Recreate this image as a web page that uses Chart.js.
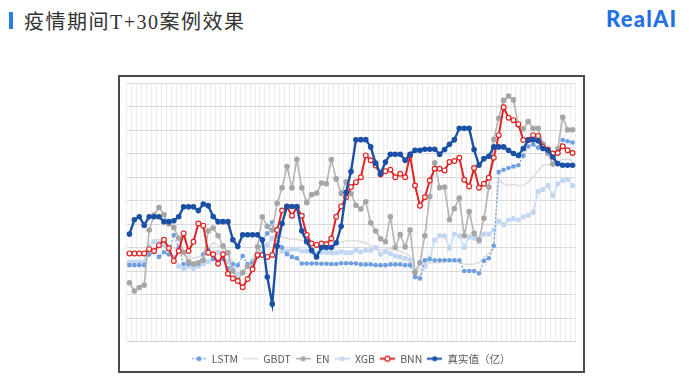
<!DOCTYPE html>
<html>
<head>
<meta charset="utf-8">
<script src="https://cdn.jsdelivr.net/npm/chart.js@4/dist/chart.umd.min.js"></script>
<style>
  body { margin: 0; background: #fff; }
  #page { position: relative; width: 700px; height: 386px; overflow: hidden; }
  #bar { position: absolute; left: 9px; top: 12px; width: 4px; height: 17px; background: #2a7ee2; }
  #title { position: absolute; left: 24px; top: 6px; font-family: "Liberation Serif", "Noto Sans CJK SC", serif; font-size: 20px; letter-spacing: 1.5px; color: #333; white-space: nowrap; }
  #logo { position: absolute; left: 606px; top: 5px; font-family: Lato, "Noto Sans", sans-serif; font-weight: 900; font-size: 22px; color: #2370e4; letter-spacing: 1.2px; }
  #frame { position: absolute; left: 118px; top: 75px; width: 467px; height: 298px; box-sizing: border-box; border: 2px solid #4a4a4a; }
  #chart { position: absolute; left: 0; top: 0; }
</style>
</head>
<body>
<div id="page">
  <div id="bar"></div>
  <div id="title">疫情期间T+30案例效果</div>
  <div id="logo">RealAI</div>
  <div id="frame"></div>
  <canvas id="chart" width="700" height="386"></canvas>
</div>
<script>
// day index of the 91 forecast points
const days = [1,2,3,4,5,6,7,8,9,10,11,12,13,14,15,16,17,18,19,20,
  21,22,23,24,25,26,27,28,29,30,31,32,33,34,35,36,37,38,39,40,
  41,42,43,44,45,46,47,48,49,50,51,52,53,54,55,56,57,58,59,60,
  61,62,63,64,65,66,67,68,69,70,71,72,73,74,75,76,77,78,79,80,
  81,82,83,84,85,86,87,88,89,90,91];

const lstm = [32.5,32.5,32.5,32.5,37,38,36,38,37,45.3,40,33,33,33,33,37.1,39,35,34,35,
  31,33,32.5,36.4,33,33.5,36,43.1,46,50.7,45,40,37.1,36,35.4,33.2,33.2,33.2,33.2,33.1,
  33.1,33,33,33.3,33.3,33.3,33.2,32.8,32.8,32.8,32.5,32.5,32.5,32.8,32.8,32.8,32.5,32.5,27.4,26.8,
  34.6,35,34.6,34.6,34.6,34.6,34.6,34.6,30,30,30,29,34.3,35.4,40.7,72.1,73.1,73.8,74.5,75,
  79,83,83.8,82.5,82,81,80,82,85.7,85.2,84.7];

const gbdt = [34.5,34.5,34.5,34.5,41,43,43.5,42.5,41,40,39,37,36,35.5,36,37,40,42,41,39,
  37,34,31,30,32,35,38,41,42,43,44,44.5,44,43.5,43.5,43,42.5,42,41.5,42,
  42.8,42.5,42,42.1,42.8,43.1,43,42.5,42,40.7,39.8,39,39.2,39.5,39,38.5,37.5,36.4,30,31,
  32.5,33.5,33.5,33.5,34,34.5,34,33.5,33,32.8,33,33.5,35.5,37.5,40,69,67.1,66.4,66.8,66.4,
  66.4,67.8,69.9,72.8,75,75.4,75,76.4,77.5,77.5,77.1];

const en = [25,21.5,23,24,47.4,53.8,57,54,50,48.5,44,38,34,33,33.5,34.6,47.1,48.3,45,40.7,
  37.8,30,26.4,29.3,32.1,31.4,40.3,53.1,49,47.4,58.8,65.4,74.5,65.4,77.4,65.4,59.2,62.5,63.1,67.4,
  67.1,77.4,69.2,63,68,63,58,56.4,59.5,50.5,47,43.7,42.4,53.1,40,45.5,40.2,47.4,29.5,33.5,
  45,61.7,76,65.5,65.7,51.8,56.6,61,45,55.3,46,43.2,52.4,65.7,86,95,102.6,104.5,102.8,92,
  90.5,93.6,90.7,90.7,84,80,75.5,82,95.4,90.1,90.1];

const xgb = [33.8,33.8,33.8,33.8,40,42.5,42,41,38,36,32,31,32,31,32,33,34,36,38,37,
  34,31,29,29.3,32,34.5,36.5,38,41,44,42,38.5,38.5,39.3,39.3,38.5,38.5,38,37.5,38,
  38,37.8,37.8,38.2,37.8,37.8,38.8,38.2,38.8,38.8,40,37.1,38.2,37.4,36.4,36,35.4,34.6,29.3,27.1,
  32.1,35.4,43.1,45,45,39.7,45.7,45,40,44.5,44,42.5,45.7,45.7,47.4,51.2,49.7,51.7,52.3,51.7,
  53,53.7,55,63.8,64.7,66.4,62.1,67.1,68.5,69,66.4];

const bnn = [37.5,37.4,37.4,37.5,39.3,38.5,41,43.3,39.7,34.3,38.5,46,38.5,42.4,50.2,49.3,37.8,37.1,33.1,37.1,
  28.8,26.8,25.7,23.1,26.6,30.7,36.8,36.8,36,36.8,47.4,55.7,57.4,53.5,57.1,53.5,45.3,41.7,41.1,41.7,
  41.4,43.8,53.1,57.5,61.4,65.7,67.8,69.9,79.2,77.1,74.9,71.1,72.5,73.1,69.9,71.4,69.9,79.2,66.4,57.8,
  61.4,68.5,73.5,73.5,72.8,76.4,76.8,78.2,68.8,66,73.8,65.4,67.1,69.7,78.2,87.8,99.7,95.2,94.2,92.5,
  85.7,85.7,87.8,87.5,82.8,81.7,80,80.2,83.1,81.4,80.2];

const actual = [45.7,51.8,53.1,49.5,53.1,53.1,53.1,51,51,51.4,53.1,57.3,57.3,57.3,55.7,58.5,57.8,53.2,51,51,
  51,43.3,40.4,45.4,45.4,45.4,45.4,43.3,27.4,16,40.5,50.2,57.4,57.4,57.4,47.1,42.5,38.8,36,40,
  40,40,42,49,63.5,72.3,85.8,85.9,85.9,82.8,75.9,71.4,76.4,79.7,79.7,79.7,77.1,79.7,81.4,81.4,
  81.8,81.8,81.8,79.7,81.7,83.9,85.9,90.7,90.7,90.7,81.7,75,77.8,78.8,82.8,82.8,82.8,81.4,80,79.2,
  82.1,85.7,85.9,85.4,82.1,81.4,78.5,75.7,75,75,75];

const seriesNames = ['LSTM', 'GBDT', 'EN', 'XGB', 'BNN', '真实值（亿）'];

// small legend icon: a short line with the marker in the middle
function makeIcon(color, opts) {
  const c = document.createElement('canvas');
  c.width = 15; c.height = 9;
  const g = c.getContext('2d');
  g.strokeStyle = color;
  g.lineWidth = opts.lw || 1.5;
  if (opts.dash) g.setLineDash(opts.dash);
  g.beginPath(); g.moveTo(0, 4.5); g.lineTo(15, 4.5); g.stroke();
  g.setLineDash([]);
  if (opts.dot) {
    g.beginPath(); g.arc(7.5, 4.5, opts.r || 2.5, 0, Math.PI * 2);
    g.fillStyle = opts.hollow ? '#fff' : color;
    g.fill();
    if (opts.hollow) { g.lineWidth = 1.3; g.stroke(); }
  }
  return c;
}

const icons = [
  makeIcon('#6f9fe0', {dash: [2, 2], dot: true}),
  makeIcon('#dcdcdc', {}),
  makeIcon('#a6a6a6', {dot: true}),
  makeIcon('#c6daf2', {dot: true, lw: 2}),
  makeIcon('#e02424', {dot: true, hollow: true, lw: 2}),
  makeIcon('#1a50a6', {dot: true, lw: 2})
];

const ctx = document.getElementById('chart').getContext('2d');

new Chart(ctx, {
  type: 'line',
  data: {
    labels: days,
    datasets: [
      { label: seriesNames[0], data: lstm, order: 3, borderColor: '#6f9fe0', backgroundColor: '#6f9fe0',
        borderWidth: 1.2, borderDash: [2, 2], pointRadius: 2.3, pointBorderWidth: 0 },
      { label: seriesNames[1], data: gbdt, order: 5, borderColor: '#dedede', backgroundColor: '#dedede',
        borderWidth: 1.6, pointRadius: 0 },
      { label: seriesNames[2], data: en, order: 2, borderColor: '#b4b4b4', backgroundColor: '#a6a6a6',
        borderWidth: 1.6, pointRadius: 2.8, pointBorderWidth: 0 },
      { label: seriesNames[3], data: xgb, order: 4, borderColor: '#cfe0f5', backgroundColor: '#c2d8f2',
        borderWidth: 2, pointRadius: 2.6, pointBorderWidth: 0 },
      { label: seriesNames[4], data: bnn, order: 1, borderColor: '#e02424', backgroundColor: '#ffffff',
        pointBorderColor: '#e02424', borderWidth: 2, pointRadius: 2.4, pointBorderWidth: 1.2 },
      { label: seriesNames[5], data: actual, order: 0, borderColor: '#1a50a6', backgroundColor: '#1a50a6',
        borderWidth: 2.4, pointRadius: 2.8, pointBorderWidth: 0 }
    ]
  },
  options: {
    responsive: false,
    animation: false,
    layout: { padding: { left: 127, right: 125, top: 83, bottom: 12 } },
    scales: {
      x: {
        offset: true,
        grid: { offset: true, color: '#ececec', drawTicks: true, tickLength: 7, tickColor: 'rgba(0,0,0,0)' },
        border: { display: true, color: '#d2d2d2' },
        ticks: { display: false, autoSkip: false }
      },
      y: {
        min: 0, max: 110,
        grid: { color: '#dadada', drawTicks: false },
        border: { display: false },
        ticks: { display: false, stepSize: 10 }
      }
    },
    plugins: {
      tooltip: { enabled: false },
      legend: {
        position: 'bottom',
        labels: {
          usePointStyle: true,
          pointStyleWidth: 15,
          boxHeight: 9,
          padding: 5,
          color: '#595959',
          font: { size: 10.5, family: '"Noto Sans CJK SC", "Noto Sans", sans-serif' },
          sort: (a, b) => a.datasetIndex - b.datasetIndex,
          generateLabels: function (chart) {
            const items = Chart.defaults.plugins.legend.labels.generateLabels(chart);
            items.forEach(function (it) { it.pointStyle = icons[it.datasetIndex]; });
            return items;
          }
        }
      }
    }
  }
});
</script>
</body>
</html>
